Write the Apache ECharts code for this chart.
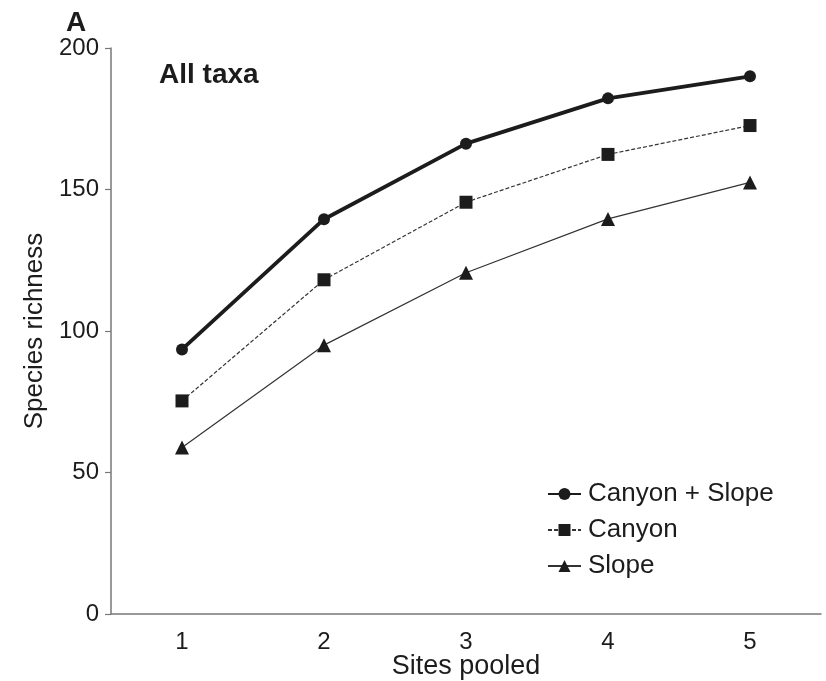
<!DOCTYPE html>
<html>
<head>
<meta charset="utf-8">
<script src="https://cdn.jsdelivr.net/npm/echarts@6/dist/echarts.min.js"></script>
<style>
  html, body { margin: 0; padding: 0; background: #fff; }
  #chart { width: 826px; height: 681px; }
</style>
</head>
<body>
<div id="chart"></div>
<script>
// values
const sites = ['1', '2', '3', '4', '5'];
const canyonSlope = [93.5, 139.5, 166.2, 182.2, 190];
const canyon = [75.3, 118.1, 145.5, 162.4, 172.6];
const slope = [58.8, 95, 120.6, 139.6, 152.5];

const ink = '#1c1c1c';
const axisGrey = '#777';
const font = 'Liberation Sans, Arial, Helvetica, sans-serif';

const chart = echarts.init(document.getElementById('chart'));

const option = {
    backgroundColor: '#fff',
    animation: false,
    textStyle: { fontFamily: font },
    title: [
        { text: 'A', left: 61, top: 4, textStyle: { fontSize: 28, fontWeight: 'bold', color: ink, fontFamily: font } },
        { text: 'All taxa', left: 154, top: 56, textStyle: { fontSize: 28, fontWeight: 'bold', color: ink, fontFamily: font } }
    ],
    grid: { left: 111, right: 5, top: 48, bottom: 67, outerBoundsMode: 'none' },
    legend: {
        orient: 'vertical',
        left: 547,
        top: 481,
        padding: 0,
        itemWidth: 33,
        itemHeight: 15,
        itemGap: 10,
        textStyle: { fontSize: 26, color: ink, fontFamily: font, padding: [0, 0, 0, 2] },
        data: ['Canyon + Slope', 'Canyon', 'Slope']
    },
    xAxis: {
        type: 'category',
        data: sites,
        boundaryGap: true,
        name: 'Sites pooled',
        nameLocation: 'middle',
        nameMoveOverlap: false,
        nameGap: 39,
        nameTextStyle: { fontSize: 27, color: ink, fontFamily: font },
        axisLine: { lineStyle: { color: axisGrey, width: 1.5 } },
        axisTick: { alignWithLabel: true, length: 6, lineStyle: { color: axisGrey, width: 1.2 } },
        axisLabel: { fontSize: 24, color: ink, margin: 16, fontFamily: font },
        splitLine: { show: false }
    },
    yAxis: {
        type: 'value',
        min: 0,
        max: 200,
        interval: 50,
        name: 'Species richness',
        nameLocation: 'middle',
        nameGap: 61,
        nameTextStyle: { fontSize: 26, color: ink, fontFamily: font },
        axisLine: { show: true, lineStyle: { color: axisGrey, width: 1.5 } },
        axisTick: { show: true, length: 6, lineStyle: { color: axisGrey, width: 1.2 } },
        axisLabel: { fontSize: 24, color: ink, margin: 12, fontFamily: font },
        splitLine: { show: false }
    },
    series: [
        {
            name: 'Canyon + Slope',
            type: 'line',
            data: canyonSlope,
            symbol: 'circle',
            symbolSize: 12,
            itemStyle: { color: ink },
            lineStyle: { color: ink, width: 3.8 },
            z: 3
        },
        {
            name: 'Canyon',
            type: 'line',
            data: canyon,
            symbol: 'rect',
            symbolSize: 13,
            itemStyle: { color: ink },
            lineStyle: { color: '#333', width: 1.2, type: [4, 2] },
            z: 2
        },
        {
            name: 'Slope',
            type: 'line',
            data: slope,
            symbol: 'triangle',
            symbolSize: 14,
            itemStyle: { color: ink },
            lineStyle: { color: '#333', width: 1.2 },
            z: 2
        }
    ]
};

chart.setOption(option);
</script>
</body>
</html>
